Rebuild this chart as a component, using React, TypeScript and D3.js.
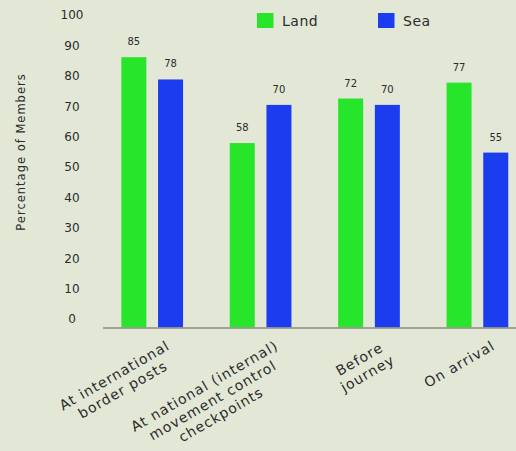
import React, { useEffect, useRef } from "react";
import * as d3 from "d3";

const categories: string[][] = [
  ["At international", "border posts"],
  ["At national (internal)", "movement control", "checkpoints"],
  ["Before", "journey"],
  ["On arrival"],
];
const seriesNames = ["Land", "Sea"];
const landValues = [85, 58, 72, 77];
const seaValues = [78, 70, 70, 55];
const yTicks = [0, 10, 20, 30, 40, 50, 60, 70, 80, 90, 100];

const W = 516;
const H = 451;
const BG = "#e2e7d6";
const GREEN = "#27e52a";
const BLUE = "#1c3cf0";
const TEXT = "#2c2c2c";
const FONT = "'DejaVu Sans', sans-serif";

export default function App() {
  const ref = useRef<SVGSVGElement | null>(null);

  useEffect(() => {
    const svg = d3.select(ref.current);
    svg.selectAll("*").remove();

    svg.append("rect").attr("width", W).attr("height", H).attr("fill", BG);

    const y = d3.scaleLinear().domain([0, 100]).range([327.5, 9.5]);
    const yLabel = d3.scaleLinear().domain([0, 100]).range([319, 15]);
    const keys = categories.map((c) => c.join(" "));
    const x = d3.scaleBand<string>().domain(keys).range([98, 531.6]).paddingInner(0).paddingOuter(0);
    const inner = d3
      .scaleBand<string>()
      .domain(seriesNames)
      .range([-30.85, 30.85])
      .paddingInner(0.319)
      .paddingOuter(0);
    const color = d3.scaleOrdinal<string, string>().domain(seriesNames).range([GREEN, BLUE]);

    const data = keys.map((k, i) => ({ key: k, values: [landValues[i], seaValues[i]] }));

    // y tick labels
    svg
      .append("g")
      .selectAll("text")
      .data(yTicks)
      .join("text")
      .attr("x", 72)
      .attr("y", (d) => yLabel(d))
      .attr("dy", "0.36em")
      .attr("text-anchor", "middle")
      .attr("font-family", FONT)
      .attr("font-size", 12)
      .attr("fill", TEXT)
      .text((d) => d);

    // y title
    svg
      .append("text")
      .attr("transform", `translate(25,152) rotate(-90)`)
      .attr("text-anchor", "middle")
      .attr("font-family", FONT)
      .attr("font-size", 11.5)
      .attr("letter-spacing", 1)
      .attr("fill", TEXT)
      .text("Percentage of Members");

    // bars
    const groups = svg
      .append("g")
      .selectAll("g")
      .data(data)
      .join("g")
      .attr("transform", (d) => `translate(${x(d.key)! + x.bandwidth() / 2},0)`);

    groups
      .selectAll("rect")
      .data((d) => d.values.map((v, j) => ({ name: seriesNames[j], v })))
      .join("rect")
      .attr("x", (d) => inner(d.name)!)
      .attr("width", inner.bandwidth())
      .attr("y", (d) => y(d.v))
      .attr("height", (d) => y(0) - y(d.v))
      .attr("fill", (d) => color(d.name));

    groups
      .selectAll("text.val")
      .data((d) => d.values.map((v, j) => ({ name: seriesNames[j], v })))
      .join("text")
      .attr("class", "val")
      .attr("x", (d) => inner(d.name)! + inner.bandwidth() / 2)
      .attr("y", (d) => y(d.v) - 12)
      .attr("text-anchor", "middle")
      .attr("font-family", FONT)
      .attr("font-size", 10)
      .attr("fill", TEXT)
      .text((d) => d.v);

    // axis line
    svg
      .append("line")
      .attr("x1", 103)
      .attr("x2", W)
      .attr("y1", y(0) + 0.5)
      .attr("y2", y(0) + 0.5)
      .attr("stroke", "#8c8c82")
      .attr("stroke-width", 1.6);

    // category labels
    const lineH = 16.5;
    const fs = 14;
    categories.forEach((lines, i) => {
      const cx = x(keys[i])! + x.bandwidth() / 2;
      const g = svg.append("g").attr("transform", `translate(${cx + 12},337) rotate(-30)`);
      const t = g
        .append("text")
        .attr("font-family", FONT)
        .attr("font-size", fs)
        .attr("letter-spacing", 1)
        .attr("fill", TEXT)
        .attr("text-anchor", "middle");
      const spans = t
        .selectAll("tspan")
        .data(lines)
        .join("tspan")
        .attr("x", 0)
        .attr("y", (_d, j) => fs * 0.95 + j * lineH)
        .text((d) => d);
      let maxW = 0;
      spans.each(function () {
        const w = (this as SVGTSpanElement).getComputedTextLength();
        if (w > maxW) maxW = w;
      });
      spans.attr("x", -maxW / 2);
    });

    // legend
    const legendX = [257, 378];
    seriesNames.forEach((name, i) => {
      const g = svg.append("g").attr("transform", `translate(${legendX[i]},13)`);
      g.append("rect").attr("width", 16.5).attr("height", 15).attr("fill", color(name));
      g.append("text")
        .attr("x", 25)
        .attr("y", 8)
        .attr("dy", "0.36em")
        .attr("font-family", FONT)
        .attr("font-size", 14)
        .attr("letter-spacing", 0.5)
        .attr("fill", TEXT)
        .text(name);
    });
  }, []);

  return (
    <div style={{ position: "absolute", left: 0, top: 0, width: W, height: H }}>
      <svg ref={ref} width={W} height={H} style={{ display: "block" }} />
    </div>
  );
}
